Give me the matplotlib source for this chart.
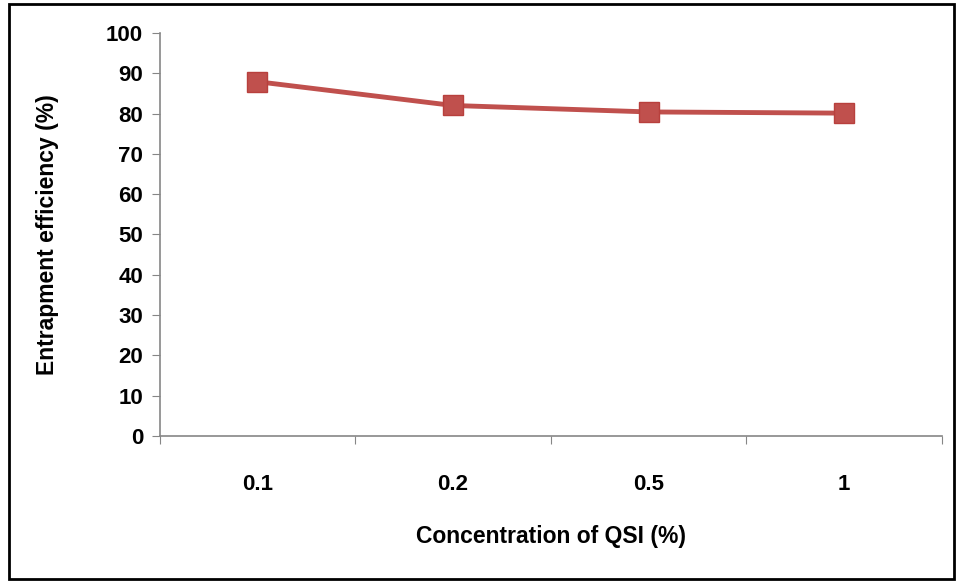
import matplotlib
matplotlib.use("Agg")
import matplotlib.pyplot as plt
from matplotlib.patches import Rectangle

categories = ["0.1", "0.2", "0.5", "1"]
efficiency = [87.9, 82.0, 80.4, 80.1]
y_ticks = [0, 10, 20, 30, 40, 50, 60, 70, 80, 90, 100]

plt.rcParams['font.family'] = ['Liberation Sans', 'DejaVu Sans']
fs_tick = 16
fs_label = 16.5

fig = plt.figure(figsize=(9.62, 5.88), dpi=100)
ax = fig.add_axes([0.166, 0.2585, 0.813, 0.6855])

x = list(range(len(categories)))
ax.plot(x, efficiency, color="#C0504D", lw=3.5, marker="s", markersize=14,
        markerfacecolor="#C0504D", markeredgecolor="#B8403D", zorder=3)

ax.set_xlim(-0.5, len(categories) - 0.5)
ax.set_ylim(0, 100)
ax.set_yticks(y_ticks)
ax.set_yticklabels([str(v) for v in y_ticks], fontsize=fs_tick, fontweight="bold")
ax.set_xticks([i - 0.5 for i in range(len(categories) + 1)])
ax.set_xticklabels([])
ax.set_xticks(x, minor=True)
ax.set_xticklabels(categories, minor=True, fontsize=fs_tick, fontweight="bold")
ax.tick_params(axis="x", which="minor", length=0, pad=27)
ax.tick_params(axis="x", which="major", length=6, color="#868686", direction="out")
ax.tick_params(axis="y", length=6, color="#868686", direction="out", pad=6)

for s in ["top", "right"]:
    ax.spines[s].set_visible(False)
for s in ["left", "bottom"]:
    ax.spines[s].set_color("#868686")
    ax.spines[s].set_linewidth(1.2)

ax.set_ylabel("Entrapment efficiency (%)", fontsize=fs_label, fontweight="bold", labelpad=34)
ax.set_xlabel("Concentration of QSI (%)", fontsize=fs_label, fontweight="bold", labelpad=22)

fig.patches.append(Rectangle((0.009, 0.015), 0.983, 0.978, transform=fig.transFigure,
                             fill=False, edgecolor="black", lw=2))

fig.savefig("out.png", dpi=100)
